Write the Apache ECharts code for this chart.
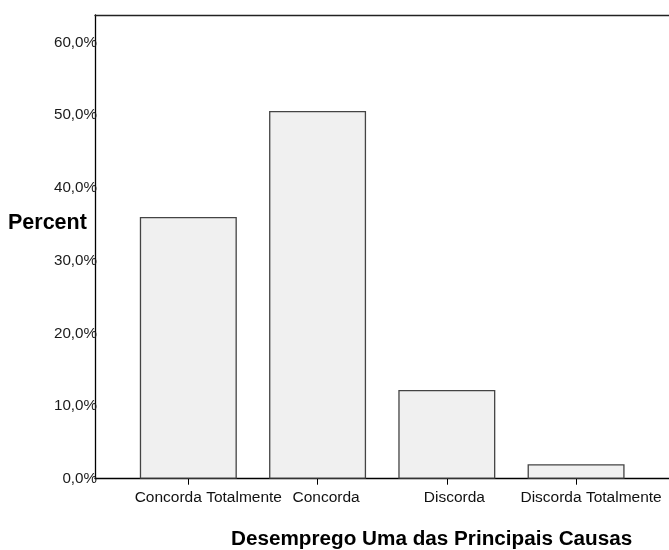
<!DOCTYPE html>
<html>
<head>
<meta charset="utf-8">
<script src="https://cdn.jsdelivr.net/npm/echarts@6/dist/echarts.min.js"></script>
<style>
html,body{margin:0;padding:0;background:#fff;}
#chart{width:669px;height:550px;}
</style>
</head>
<body>
<div id="chart"></div>
<script>
const categories = ['Concorda Totalmente', 'Concorda', 'Discorda', 'Discorda Totalmente'];
const percentValues = [36.0, 50.6, 12.2, 2.0];
const yTicks = [0, 10, 20, 30, 40, 50, 60];
const yMax = 63.8;
const xTitle = 'Desemprego Uma das Principais Causas';
const yTitle = 'Percent';

const FONT = '"Liberation Sans", Arial, sans-serif';
// label shift (px) to the right of each tick, as in the reference
const labelShift = [20, 8.5, 7.5, 15];

const chart = echarts.init(document.getElementById('chart'), null, {renderer: 'canvas'});
const fmt = v => v.toFixed(1).replace('.', ',') + '%';

const catData = categories.map((c, i) => ({
  value: c,
  textStyle: {padding: [0, 0, 0, 2 * labelShift[i]]}
}));

chart.setOption({
  animation: false,
  backgroundColor: '#ffffff',
  title: [
    {text: xTitle, left: 231, top: 529, padding: 0,
     textStyle: {fontFamily: FONT, fontSize: 20.7, fontWeight: 'bold', color: '#000'}},
    {text: yTitle, left: 8, top: 212, padding: 0,
     textStyle: {fontFamily: FONT, fontSize: 21.5, fontWeight: 'bold', color: '#000'}}
  ],
  grid: [
    {left: 95, right: 0, top: 15, bottom: 71.3, containLabel: false},
    {left: 123.7, right: 28.3, top: 15, bottom: 71.3, containLabel: false}
  ],
  xAxis: [
    {gridIndex: 0, type: 'value', min: 0, max: 1, position: 'bottom',
     axisLine: {show: true, lineStyle: {color: '#000', width: 1.3}},
     axisTick: {show: false}, axisLabel: {show: false}, splitLine: {show: false}},
    {gridIndex: 0, type: 'value', min: 0, max: 1, position: 'top',
     axisLine: {show: true, lineStyle: {color: '#222', width: 1.3}},
     axisTick: {show: false}, axisLabel: {show: false}, splitLine: {show: false}},
    {gridIndex: 1, type: 'category', data: catData, position: 'bottom',
     axisLine: {show: false},
     axisTick: {show: true, alignWithLabel: true, length: 6, lineStyle: {color: '#000', width: 1}},
     axisLabel: {show: true, interval: 0, margin: 11, fontFamily: FONT, fontSize: 15.5, color: '#111'},
     splitLine: {show: false}}
  ],
  yAxis: [
    {gridIndex: 0, type: 'value', min: 0, max: yMax, interval: 10,
     axisLine: {show: true, lineStyle: {color: '#000', width: 1.3}},
     axisTick: {show: false},
     axisLabel: {show: true, margin: -2, showMaxLabel: false, fontFamily: FONT, fontSize: 15.2, color: '#1a1a1a',
       formatter: v => yTicks.includes(v) ? fmt(v) : ''},
     splitLine: {show: false}},
    {gridIndex: 1, type: 'value', min: 0, max: yMax, show: false}
  ],
  series: [{
    type: 'bar',
    xAxisIndex: 2,
    yAxisIndex: 1,
    data: percentValues,
    barWidth: 97,
    itemStyle: {color: '#f0f0f0', borderColor: '#444', borderWidth: 1.3}
  }]
});
</script>
</body>
</html>
